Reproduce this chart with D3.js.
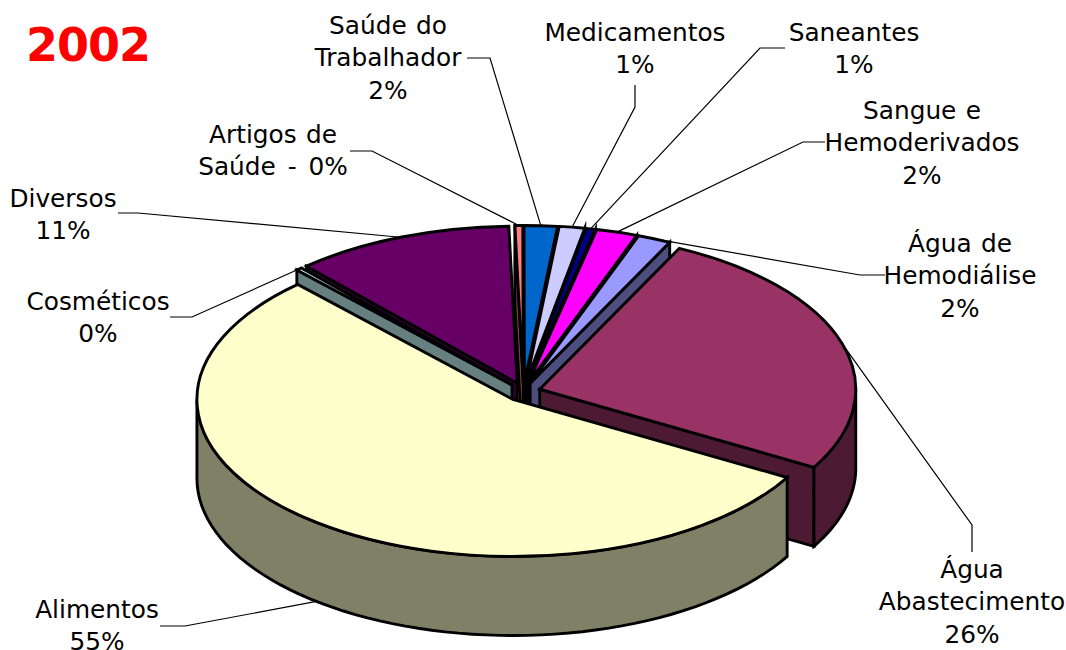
<!DOCTYPE html>
<html><head><meta charset="utf-8">
<script src="https://cdn.jsdelivr.net/npm/d3@7/dist/d3.min.js"></script>
<style>html,body{margin:0;padding:0;background:#fff}svg{display:block}text{font-family:"DejaVu Sans",Verdana,sans-serif}</style>
</head><body><svg id="c" width="1066" height="650"></svg>
<script>
// data
const categories=["Alimentos","Cosméticos","Diversos","Artigos de Saúde","Saúde do Trabalhador","Medicamentos","Saneantes","Sangue e Hemoderivados","Água de Hemodiálise","Água Abastecimento"];
const shares=[54.8,0.3,11.2,0.4,1.7,1.3,0.5,2.1,1.7,26.0];
const colors=["#FFFFCC","#CCFFFF","#660066","#FF8080","#0066CC","#CCCCFF","#000080","#FF00FF","#9999FF","#993366"];
const labelLines=[["Alimentos","55%"],["Cosméticos","0%"],["Diversos","11%"],["Artigos de","Saúde - 0%"],["Saúde do","Trabalhador","2%"],["Medicamentos","1%"],["Saneantes","1%"],["Sangue e","Hemoderivados","2%"],["Água de","Hemodiálise","2%"],["Água","Abastecimento","26%"]];
// layout (label centre x, first line y, then leader polyline from label towards the slice)
const labelX=[97,98,63,273,388,635,854,922,960,972];
const labelY=[609,301,198,134,25,32,32,110,243,569];
const leaders=[[[160,626],[185,626]],[[170,317],[192,317]],[[118,213],[138,213]],[[350,151],[372,151]],[[467,58],[490,58]],[[635,85],[635,107]],[[785,48],[760,48]],[[825,142],[803,142]],[[885,275],[860,275]],[[972,552],[972,525]]];
const lineGap=32.8, fontSize=24.8;
const R=316, squash=0.497, depth=79, explode=17, explodeY=9.5, cx=523.5, cy=392, startDeg=119.8;

const svg=d3.select("#c");
const toRad=d=>d*Math.PI/180;
const sx=d3.scaleLinear().domain([0,1]).range([0,R]);
const sy=d3.scaleLinear().domain([0,1]).range([0,R*squash]);
const pie=d3.pie().sort(null).startAngle(toRad(startDeg)).endAngle(toRad(startDeg+360)).value(d=>d);
const arcs=pie(shares).map((a,i)=>{
  const mid=(a.startAngle+a.endAngle)/2;
  return {...a,i,mid,ox:cx+explode*Math.sin(mid),oy:cy-explodeY*Math.cos(mid),color:colors[i]};
});
const pt=(s,ang,r=1,dz=0)=>[s.ox+sx(r*Math.sin(ang)),s.oy-sy(r*Math.cos(ang))+dz];
const dark=c=>{const k=d3.rgb(c);return d3.rgb(k.r/2,k.g/2,k.b/2).formatHex()};
const line=d3.line();
const strokeW=2.9;

// leaders (behind the pie)
const gL=svg.append("g");
arcs.forEach(s=>{
  const front=Math.cos(s.mid)<0;
  const end=pt(s,s.mid,1,front?depth:0);
  gL.append("path").attr("d",line([...leaders[s.i],end])).attr("fill","none").attr("stroke","#000").attr("stroke-width",1.2);
});

// slices, back to front
const topArc=d3.arc().innerRadius(0).outerRadius(R);
const order=arcs.slice().sort((a,b)=>Math.cos(b.mid)-Math.cos(a.mid));
const g=svg.append("g").attr("stroke","#000").attr("stroke-width",strokeW).attr("stroke-linejoin","miter").attr("stroke-miterlimit",8);
order.forEach(s=>{
  const wall=dark(s.color);
  const face=ang=>{
    const p=pt(s,ang),c=[s.ox,s.oy];
    g.append("path").attr("d",line([c,p,[p[0],p[1]+depth],[c[0],c[1]+depth]])+"Z").attr("fill",wall);
  };
  if(Math.sin(s.startAngle)<0) face(s.startAngle);
  if(Math.sin(s.endAngle)>0) face(s.endAngle);
  // outer wall: the part of the rim facing the viewer
  const ranges=[[Math.PI/2,Math.PI*1.5],[Math.PI*2.5,Math.PI*3.5]];
  ranges.forEach(([lo,hi])=>{
    const a0=Math.max(lo,s.startAngle),a1=Math.min(hi,s.endAngle);
    if(a1<=a0) return;
    const steps=d3.range(0,61).map(k=>a0+(a1-a0)*k/60);
    const upper=steps.map(a=>pt(s,a));
    const lower=steps.slice().reverse().map(a=>pt(s,a,1,depth));
    g.append("path").attr("d",line([...upper,...lower])+"Z").attr("fill",wall);
  });
  g.append("path").attr("d",topArc(s))
    .attr("transform",`translate(${s.ox},${s.oy}) scale(1,${squash})`)
    .attr("vector-effect","non-scaling-stroke").attr("fill",s.color);
});

// labels
arcs.forEach(s=>{
  const t=svg.append("text").attr("text-anchor","middle").attr("font-size",fontSize).attr("fill","#000");
  labelLines[s.i].forEach((l,j)=>{
    t.append("tspan").attr("x",labelX[s.i]).attr("y",labelY[s.i]+j*lineGap).attr("dominant-baseline","central")
      .attr("word-spacing",l.includes(" - ")?4:1.5).text(l);
  });
});
svg.append("text").attr("x",26).attr("y",61).attr("font-size",46).attr("letter-spacing",-1).attr("font-weight","bold").attr("fill","#FF0000").text("2002");
</script></body></html>
